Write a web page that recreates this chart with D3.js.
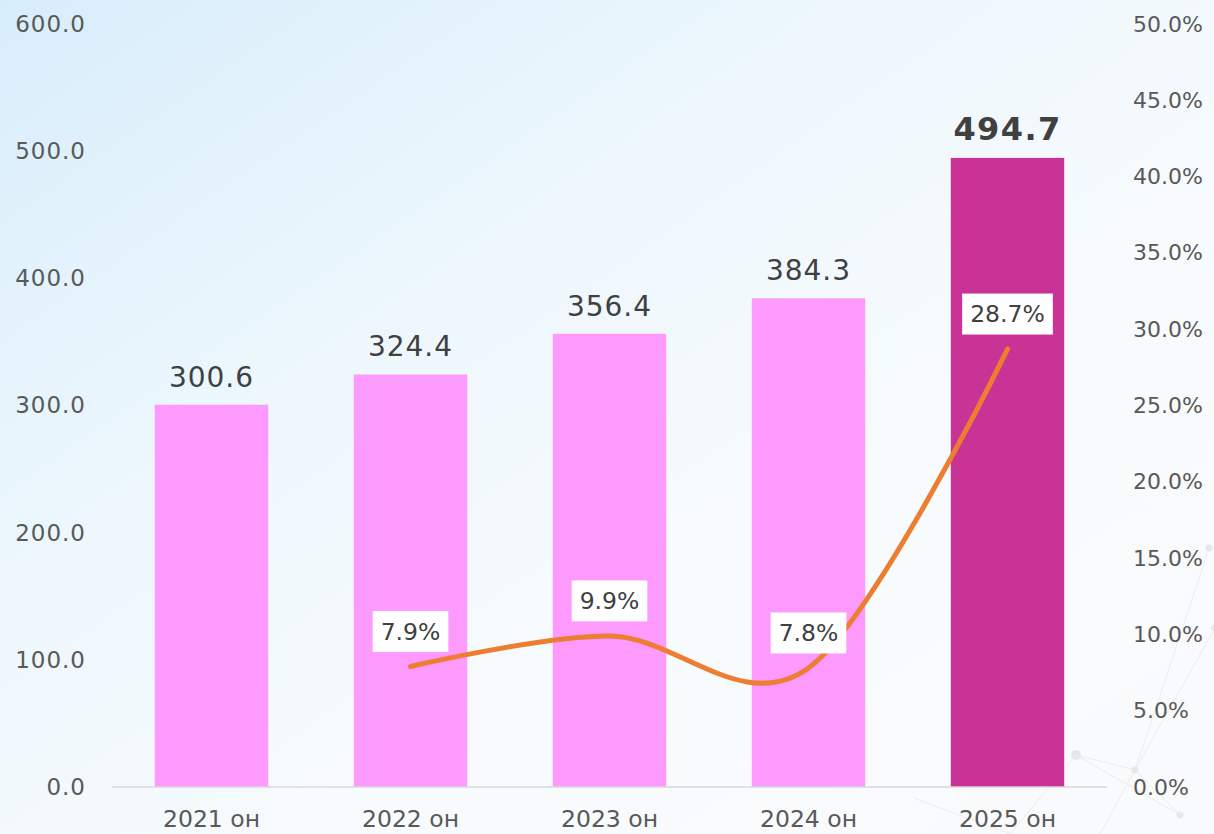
<!DOCTYPE html>
<html>
<head>
<meta charset="utf-8">
<script src="https://cdn.jsdelivr.net/npm/d3@7"></script>
<style>
  html, body { margin: 0; padding: 0; }
  body { width: 1214px; height: 834px; overflow: hidden; }
  svg { display: block; font-family: "DejaVu Sans", sans-serif; }
</style>
</head>
<body>
<svg id="chart" width="1214" height="834"></svg>
<script>
// Data
const years = ['2021 он', '2022 он', '2023 он', '2024 он', '2025 он'];
const values = [300.6, 324.4, 356.4, 384.3, 494.7];
const growth = [null, 0.079, 0.099, 0.078, 0.287];
const leftTicks = [0, 100, 200, 300, 400, 500, 600];
const rightTicks = [0, 0.05, 0.10, 0.15, 0.20, 0.25, 0.30, 0.35, 0.40, 0.45, 0.50];

const width = 1214;
const height = 834;
const baseY = 787;
const topY = 24;

const svg = d3.select('#chart');

// Background gradient
const defs = svg.append('defs');
const bg = defs.append('linearGradient')
  .attr('id', 'bg')
  .attr('x1', '0').attr('y1', '0')
  .attr('x2', '1').attr('y2', '1');
bg.append('stop').attr('offset', '0%').attr('stop-color', '#d8edfb');
bg.append('stop').attr('offset', '35%').attr('stop-color', '#edf7fd');
bg.append('stop').attr('offset', '65%').attr('stop-color', '#f8fbfd');
bg.append('stop').attr('offset', '100%').attr('stop-color', '#f9fafb');

svg.append('rect')
  .attr('width', width)
  .attr('height', height)
  .attr('fill', 'url(#bg)');

// Faint network decoration bottom right
const deco = svg.append('g').attr('stroke', '#cfd2d5').attr('fill', '#c4c8cb').attr('opacity', 0.35);
const nodes = [[1076, 755], [1135, 770], [1209, 548], [1215, 628], [1180, 815], [914, 798], [1010, 834], [1100, 834]];
const edges = [[0, 1], [1, 2], [1, 3], [0, 4], [1, 4], [0, 6], [5, 6], [1, 7]];
deco.selectAll('line')
  .data(edges)
  .enter()
  .append('line')
  .attr('x1', d => nodes[d[0]][0])
  .attr('y1', d => nodes[d[0]][1])
  .attr('x2', d => nodes[d[1]][0])
  .attr('y2', d => nodes[d[1]][1])
  .attr('stroke-width', 1);
deco.selectAll('circle')
  .data(nodes.slice(0, 5))
  .enter()
  .append('circle')
  .attr('cx', d => d[0])
  .attr('cy', d => d[1])
  .attr('r', (d, i) => i === 0 ? 5 : 3.5)
  .attr('stroke', 'none');

// Scales
const x = d3.scaleBand()
  .domain(years)
  .range([112, 1107])
  .paddingInner(0.43)
  .paddingOuter(0.215);

const yLeft = d3.scaleLinear().domain([0, 600]).range([baseY, topY]);
const yRight = d3.scaleLinear().domain([0, 0.5]).range([baseY, topY]);

// Left axis
const leftAxis = svg.append('g')
  .attr('transform', 'translate(86,0)')
  .call(d3.axisLeft(yLeft).tickValues(leftTicks).tickFormat(d3.format('.1f')).tickSize(0).tickPadding(0));
leftAxis.select('.domain').remove();
leftAxis.selectAll('text')
  .attr('font-size', 23)
  .attr('letter-spacing', 1)
  .attr('fill', '#595959')
  .attr('font-family', '"DejaVu Sans", sans-serif');

// Right axis
const rightAxis = svg.append('g')
  .attr('transform', 'translate(1133,0)')
  .call(d3.axisRight(yRight).tickValues(rightTicks).tickFormat(d3.format('.1%')).tickSize(0).tickPadding(0));
rightAxis.select('.domain').remove();
rightAxis.selectAll('text')
  .attr('font-size', 22)
  .attr('fill', '#595959')
  .attr('font-family', '"DejaVu Sans", sans-serif');

// Bars
svg.append('g')
  .selectAll('rect')
  .data(values)
  .enter()
  .append('rect')
  .attr('x', (d, i) => x(years[i]))
  .attr('y', d => yLeft(d))
  .attr('width', x.bandwidth())
  .attr('height', d => baseY - yLeft(d))
  .attr('fill', (d, i) => i === values.length - 1 ? '#c93395' : '#fe99fe');

// Baseline
svg.append('line')
  .attr('x1', 112).attr('x2', 1107)
  .attr('y1', baseY).attr('y2', baseY)
  .attr('stroke', '#d9d9d9')
  .attr('stroke-width', 1.5);

// X labels
const bottomAxis = svg.append('g')
  .attr('transform', `translate(0,${baseY})`)
  .call(d3.axisBottom(x).tickSize(0).tickPadding(0));
bottomAxis.select('.domain').remove();
bottomAxis.selectAll('text')
  .attr('dy', null)
  .attr('y', 40)
  .attr('font-size', 23.5)
  .attr('fill', '#595959')
  .attr('font-family', '"DejaVu Sans", sans-serif');

// Bar value labels
svg.append('g')
  .selectAll('text')
  .data(values)
  .enter()
  .append('text')
  .attr('x', (d, i) => x(years[i]) + x.bandwidth() / 2)
  .attr('y', d => yLeft(d) - 18)
  .attr('text-anchor', 'middle')
  .attr('font-size', (d, i) => i === values.length - 1 ? 32 : 28)
  .attr('font-weight', (d, i) => i === values.length - 1 ? 'bold' : 'normal')
  .attr('letter-spacing', (d, i) => i === values.length - 1 ? 1.4 : 1)
  .attr('fill', '#404040')
  .text(d => d3.format('.1f')(d));

// Growth line
const pts = growth
  .map((g, i) => ({ g, cat: years[i] }))
  .filter(p => p.g !== null);

const line = d3.line()
  .x(p => x(p.cat) + x.bandwidth() / 2)
  .y(p => yRight(p.g))
  .curve(d3.curveCardinal.tension(0));

svg.append('path')
  .datum(pts)
  .attr('d', line)
  .attr('fill', 'none')
  .attr('stroke', '#ed7d31')
  .attr('stroke-width', 5)
  .attr('stroke-linecap', 'round');

// Growth labels
const glabels = svg.append('g')
  .selectAll('g')
  .data(pts)
  .enter()
  .append('g')
  .attr('transform', p => `translate(${x(p.cat) + x.bandwidth() / 2},${yRight(p.g) - 35})`);

glabels.append('text')
  .attr('text-anchor', 'middle')
  .attr('dy', '0.35em')
  .attr('font-size', 23.5)
  .attr('fill', '#404040')
  .text(p => d3.format('.1%')(p.g))
  .each(function () {
    const bb = this.getBBox();
    d3.select(this.parentNode).insert('rect', 'text')
      .attr('x', bb.x - 8)
      .attr('y', -20.5)
      .attr('width', bb.width + 16)
      .attr('height', 41)
      .attr('fill', '#ffffff');
  });
</script>
</body>
</html>
